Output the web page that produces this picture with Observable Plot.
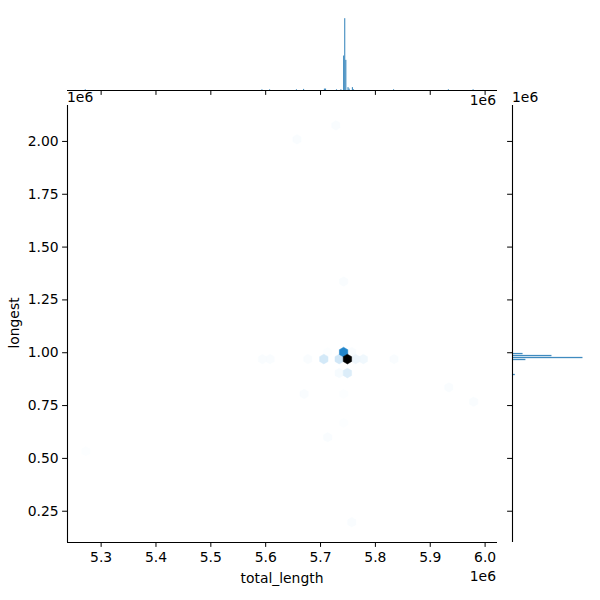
<!DOCTYPE html>
<html><head><meta charset="utf-8">
<script src="https://cdn.jsdelivr.net/npm/d3@7"></script>
<script src="https://cdn.jsdelivr.net/npm/@observablehq/plot@0.6"></script>
<style>
body{margin:0;background:#fff;}
#wrap{position:relative;width:600px;height:600px;font-family:"DejaVu Sans",sans-serif;font-size:13.9px;color:#000;}
#wrap svg{position:absolute;left:0;top:0;}
.t{position:absolute;white-space:nowrap;line-height:16px;}
</style></head><body><div id="wrap"></div>
<script>
// axis domains and ticks
const xDomain = [5238700, 6022600];
const yDomain = [102000, 2170000];
const xTicks = [5300000, 5400000, 5500000, 5600000, 5700000, 5800000, 5900000, 6000000];
const yTicks = [250000, 500000, 750000, 1000000, 1250000, 1500000, 1750000, 2000000];

// hexbin cells (centre total_length, centre longest, count)
const hexX = [5728000, 5657000, 5742000, 5742000, 5749000, 5706000, 5734000, 5764000, 5778000, 5677000, 5594000, 5608000, 5834000, 5757000, 5713000, 5734000, 5749000, 5670000, 5742000, 5934000, 5979000, 5742000, 5713000, 5272000, 5757000];
const hexY = [2076000, 2010000, 1337000, 1003000, 970000, 970000, 970000, 970000, 970000, 970000, 970000, 970000, 970000, 1003000, 1003000, 904000, 904000, 805000, 805000, 836000, 768000, 668000, 600000, 534000, 198000];
const hexCount = [2, 2, 2, 80, 150, 15, 16, 6, 5, 2, 2, 2, 2, 2, 1, 3, 12, 2, 1, 2, 2, 1, 2, 1, 2];

// marginal histogram of total_length
const histXCenter = [5272000, 5594000, 5608000, 5657000, 5670000, 5708000, 5710000, 5730000, 5738000, 5743000, 5745000, 5747000, 5751000, 5753000, 5759000, 5761000, 5834000, 5934000, 5979000];
const histXCount  = [1, 1, 1, 1, 1.5, 2, 2, 1, 1, 48, 100, 42, 4, 2, 4, 1, 1, 1, 1];
const histXWidth = 2000;

// marginal histogram of longest
const histYCenter = [198000, 534000, 600000, 668000, 768000, 805000, 836000, 894600, 965600, 975000, 984400, 993800, 1339000, 2010000, 2076000];
const histYCount  = [0.8, 0.8, 0.8, 0.8, 0.8, 0.8, 0.8, 4, 19, 100, 56, 15, 1.5, 0.8, 0.8];
const histYWidth = 9400;

const hexes = hexX.map((x, i) => ({x, y: hexY[i], count: hexCount[i]}))
  .sort((a, b) => a.count - b.count);
const histX = histXCenter.map((c, i) => ({x1: c - histXWidth / 2, x2: c + histXWidth / 2, count: histXCount[i]}));
const histY = histYCenter.map((c, i) => ({y1: c - histYWidth / 2, y2: c + histYWidth / 2, count: histYCount[i]}));

const C0 = "#1f77b4";
const hueOf = d3.hsl(C0);
const style = {background: "transparent", fontFamily: "DejaVu Sans", fontSize: "13.9px", color: "black", overflow: "visible"};
const common = {width: 600, height: 600, style};

const main = Plot.plot({
  ...common,
  marginLeft: 67, marginRight: 103, marginTop: 105, marginBottom: 58,
  x: {domain: xDomain, ticks: xTicks, tickFormat: d => (d / 1e6).toFixed(1), tickSize: 4.9, tickPadding: 4.5, label: null},
  y: {domain: yDomain, ticks: yTicks, tickFormat: d => (d / 1e6).toFixed(2), tickSize: 4.9, tickPadding: 4, label: null},
  color: {type: "linear", domain: [0, d3.max(hexCount)], interpolate: t => d3.hsl(hueOf.h, hueOf.s, 1 - t).formatHex()},
  marks: [
    Plot.dot(hexes, {x: "x", y: "y", fill: "count", stroke: "count", strokeWidth: 0.5, symbol: "hexagon", r: 4.2}),
    Plot.ruleX([xDomain[0]], {stroke: "black", strokeWidth: 1.1}),
    Plot.ruleY([yDomain[0]], {stroke: "black", strokeWidth: 1.1})
  ]
});

const topM = Plot.plot({
  ...common,
  marginLeft: 67, marginRight: 103, marginTop: 14.6, marginBottom: 510,
  x: {domain: xDomain, ticks: xTicks, tickFormat: () => "", tickSize: 4.9, label: null},
  y: {domain: [0, 105], axis: null},
  marks: [
    Plot.rectY(histX, {x1: "x1", x2: "x2", y: "count", fill: C0, fillOpacity: 0.85, inset: 0}),
    Plot.ruleY([0], {stroke: "black", strokeWidth: 1.1})
  ]
});

const rightM = Plot.plot({
  ...common,
  marginLeft: 512, marginRight: 14, marginTop: 105, marginBottom: 58,
  y: {domain: yDomain, ticks: yTicks, tickFormat: () => "", tickSize: 4.9, label: null},
  x: {domain: [0, 105], axis: null},
  marks: [
    Plot.rectX(histY, {y1: "y1", y2: "y2", x: "count", fill: C0, fillOpacity: 0.85, insetTop: 0.35, insetBottom: 0.35}),
    Plot.ruleX([0], {stroke: "black", strokeWidth: 1.1})
  ]
});

const wrap = document.getElementById("wrap");
wrap.appendChild(main);
wrap.appendChild(topM);
wrap.appendChild(rightM);

function addText(txt, css) {
  const d = document.createElement("div");
  d.className = "t";
  d.textContent = txt;
  Object.assign(d.style, css);
  wrap.appendChild(d);
}
addText("1e6", {left: "67px", top: "89px"});
addText("1e6", {right: "104px", top: "92px"});
addText("1e6", {left: "512px", top: "89px"});
addText("1e6", {right: "104px", top: "568px"});
addText("total_length", {left: "282px", top: "570px", transform: "translateX(-50%)"});
addText("longest", {left: "14px", top: "323px", transform: "translate(-50%,-50%) rotate(-90deg)"});
</script></body></html>
